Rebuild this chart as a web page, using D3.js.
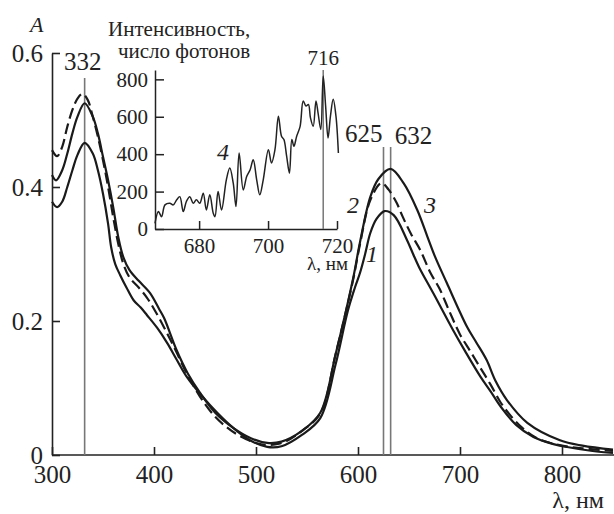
<!DOCTYPE html>
<html>
<head>
<meta charset="utf-8">
<script src="https://cdn.jsdelivr.net/npm/d3@7"></script>
<style>
  body { margin: 0; background: #fff; }
  svg text { fill: #222; }
</style>
</head>
<body>
<svg width="614" height="514"></svg>
<script>
// absorption spectra, curves 1-3
const wl3 = [300, 304, 310, 315, 320, 325, 332, 340, 345, 350, 355, 360, 365, 370, 376, 385, 396, 405, 410, 422, 433, 445, 460, 478, 495, 511, 525, 545, 563, 578, 595, 602, 612, 620, 632, 645, 658, 668, 675, 687, 707, 716, 726, 735, 746, 766, 798, 820, 850];
const a3 = [0.418, 0.410, 0.425, 0.450, 0.480, 0.505, 0.525, 0.505, 0.480, 0.445, 0.410, 0.370, 0.325, 0.295, 0.276, 0.260, 0.242, 0.218, 0.204, 0.157, 0.122, 0.093, 0.063, 0.040, 0.025, 0.018, 0.020, 0.036, 0.063, 0.150, 0.262, 0.318, 0.385, 0.412, 0.427, 0.405, 0.366, 0.326, 0.298, 0.257, 0.191, 0.168, 0.142, 0.110, 0.082, 0.048, 0.022, 0.014, 0.008];

const wl2 = [300, 305, 310, 315, 320, 325, 330, 335, 340, 345, 350, 355, 360, 365, 370, 376, 385, 393, 400, 410, 420, 430, 440, 450, 460, 470, 480, 490, 500, 510, 520, 530, 545, 563, 578, 595, 602, 612, 623, 630, 638, 644, 652, 661, 671, 680, 690, 700, 710, 720, 730, 740, 750, 760, 770, 780, 800, 820, 850];
const a2 = [0.455, 0.446, 0.460, 0.490, 0.515, 0.532, 0.539, 0.530, 0.505, 0.475, 0.440, 0.400, 0.355, 0.315, 0.285, 0.265, 0.250, 0.235, 0.218, 0.190, 0.160, 0.128, 0.100, 0.076, 0.057, 0.043, 0.032, 0.024, 0.018, 0.015, 0.016, 0.021, 0.036, 0.062, 0.150, 0.260, 0.315, 0.380, 0.406, 0.396, 0.376, 0.355, 0.330, 0.306, 0.272, 0.248, 0.213, 0.180, 0.155, 0.130, 0.105, 0.078, 0.058, 0.042, 0.030, 0.022, 0.014, 0.010, 0.006];

const wl1 = [300, 305, 310, 315, 320, 325, 332, 340, 345, 350, 355, 358, 362, 367, 373, 380, 387, 393, 403, 413, 422, 432, 447, 462, 478, 494, 511, 525, 545, 563, 578, 590, 597, 602, 607, 612, 618, 626, 635, 648, 654, 660, 674, 693, 705, 720, 730, 740, 755, 772, 790, 805, 830, 850];
const a1 = [0.378, 0.370, 0.378, 0.400, 0.425, 0.448, 0.466, 0.450, 0.425, 0.390, 0.345, 0.310, 0.285, 0.268, 0.250, 0.231, 0.220, 0.209, 0.190, 0.167, 0.143, 0.117, 0.088, 0.063, 0.040, 0.022, 0.012, 0.013, 0.030, 0.055, 0.135, 0.215, 0.250, 0.272, 0.300, 0.331, 0.352, 0.364, 0.358, 0.321, 0.300, 0.280, 0.241, 0.187, 0.155, 0.117, 0.095, 0.072, 0.045, 0.027, 0.017, 0.012, 0.006, 0.003];

// inset: emission, curve 4
const wl4 = [667.2, 668.2, 669.1, 670.1, 671.5, 672.5, 673.5, 674.4, 675.4, 676.3, 677.3, 678.3, 679.2, 680.2, 681.2, 682.1, 683.1, 684.1, 684.6, 685.5, 686.5, 687.9, 688.9, 689.9, 690.7, 691.6, 692.8, 693.8, 694.8, 695.7, 696.7, 697.6, 698.6, 700.1, 701.0, 702.0, 703.0, 703.9, 704.6, 705.4, 706.2, 706.9, 707.5, 708.3, 709.3, 710.2, 711.0, 711.7, 712.3, 713.1, 713.9, 714.5, 715.3, 716.0, 716.7, 717.4, 718.1, 718.9, 719.7, 720.4];
const i4 = [30, 93, 66, 129, 138, 129, 156, 173, 93, 147, 173, 138, 156, 138, 191, 102, 183, 84, 66, 200, 102, 263, 326, 245, 120, 406, 209, 281, 317, 370, 263, 183, 263, 424, 353, 424, 603, 496, 478, 388, 299, 478, 442, 496, 549, 684, 657, 666, 594, 549, 684, 621, 532, 818, 657, 487, 603, 693, 603, 406];

const xTicks = [300, 400, 500, 600, 700, 800];
const yTicks = [0, 0.2, 0.4, 0.6];
const xiTicks = [680, 700, 720];
const yiTicks = [0, 200, 400, 600, 800];

const FONT = '"Liberation Serif", "DejaVu Serif", "Times New Roman", serif';
const svg = d3.select("svg");
const x = d3.scaleLinear().domain([300, 850]).range([52, 613]);
const y = d3.scaleLinear().domain([0, 0.6]).range([455, 53]);

// main axes
let gx = svg.append("g")
  .attr("transform", "translate(0," + y(0) + ")")
  .call(d3.axisBottom(x).tickValues(xTicks).tickSizeInner(-8).tickSizeOuter(0).tickPadding(10).tickFormat(d3.format("d")));
let gy = svg.append("g")
  .attr("transform", "translate(" + x(300) + ",0)")
  .call(d3.axisLeft(y).tickValues(yTicks).tickSizeInner(-8).tickSizeOuter(0).tickPadding(9)
    .tickFormat((d) => d === 0 ? "0" : d.toFixed(1)));
[gx, gy].forEach((g) => {
  g.attr("font-family", FONT);
  g.selectAll("text").style("font-size", "25px").style("font-family", FONT);
  g.selectAll("path, line").attr("stroke", "#222").attr("stroke-width", 1.6);
});
gx.select(".domain").attr("d", "M" + x(300) + ",0H614");

// peak markers
svg.append("line").attr("x1", x(332)).attr("x2", x(332)).attr("y1", y(0)).attr("y2", 78)
  .attr("stroke", "#777").attr("stroke-width", 1.6);
[625, 632].forEach((p) => {
  svg.append("line").attr("x1", x(p)).attr("x2", x(p)).attr("y1", y(0)).attr("y2", 147)
    .attr("stroke", "#777").attr("stroke-width", 1.6);
});

const line = d3.line().curve(d3.curveCatmullRom.alpha(0.5));
function draw(wl, a, dash) {
  svg.append("path")
    .attr("d", line(wl.map((w, i) => [x(w), y(a[i])])))
    .attr("fill", "none")
    .attr("stroke", "#1a1a1a")
    .attr("stroke-width", 2.2)
    .attr("stroke-dasharray", dash);
}
draw(wl1, a1, null);
draw(wl3, a3, null);
draw(wl2, a2, "11,5");

// inset
const xi = d3.scaleLinear().domain([667.2, 720]).range([155, 337]);
const yi = d3.scaleLinear().domain([0, 850]).range([229, 70]);
let gxi = svg.append("g")
  .attr("transform", "translate(0," + yi(0) + ")")
  .call(d3.axisBottom(xi).tickValues(xiTicks).tickSizeInner(-8).tickSizeOuter(0).tickPadding(9));
let gyi = svg.append("g")
  .attr("transform", "translate(" + xi(667.2) + ",0)")
  .call(d3.axisLeft(yi).tickValues(yiTicks).tickSizeInner(-9).tickSizeOuter(0).tickPadding(7));
[gxi, gyi].forEach((g) => {
  g.attr("font-family", FONT);
  g.selectAll("text").style("font-size", "21px").style("font-family", FONT);
  g.selectAll("path, line").attr("stroke", "#222").attr("stroke-width", 1.5);
});

svg.append("line").attr("x1", xi(716)).attr("x2", xi(716)).attr("y1", yi(0)).attr("y2", 70)
  .attr("stroke", "#777").attr("stroke-width", 1.5);
svg.append("path")
  .attr("d", d3.line().curve(d3.curveCatmullRom.alpha(0.5))(wl4.map((w, i) => [xi(w), yi(i4[i])])))
  .attr("fill", "none").attr("stroke", "#222").attr("stroke-width", 1.5);

// texts
function label(t, px, py, size, anchor, italic) {
  svg.append("text").attr("x", px).attr("y", py).attr("text-anchor", anchor || "start")
    .style("font-family", FONT)
    .style("font-size", size + "px").style("font-style", italic ? "italic" : "normal").text(t);
}
label("A", 30, 32, 22, "start", true);
label("λ, нм", 604, 508, 24, "end");
label("332", x(332) - 2, 70, 25, "middle");
label("625", x(625) - 1, 142, 25, "end");
label("632", x(632) + 4, 144, 25, "start");
label("Интенсивность,", 108, 36, 21, "start");
label("число фотонов", 118, 58, 21, "start");
label("716", xi(716), 65, 21, "middle");
label("λ, нм", 348, 270, 19, "end");
label("1", 366, 262, 24, "start", true);
label("2", 347, 213, 24, "start", true);
label("3", 424, 213, 24, "start", true);
label("4", 217, 160, 24, "start", true);
</script>
</body>
</html>
